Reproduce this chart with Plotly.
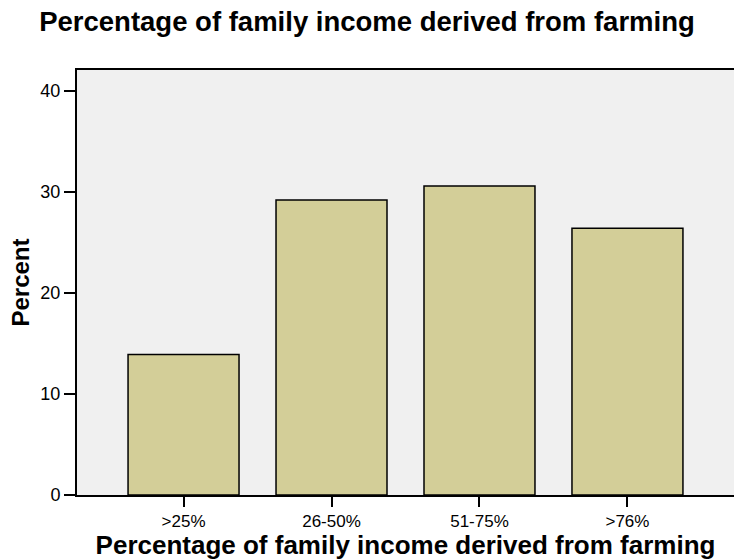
import plotly.graph_objects as go

categories = [">25%", "26-50%", "51-75%", ">76%"]
percent = [13.9, 29.2, 30.6, 26.4]
y_ticks = [0, 10, 20, 30, 40]

fig = go.Figure(go.Bar(
    x=categories, y=percent,
    marker=dict(color="#D3CE98", line=dict(color="#000000", width=1.5)),
    width=0.75,
))

font = "Liberation Sans, Arial, sans-serif"
fig.update_layout(
    width=734, height=560,
    margin=dict(l=77, r=0, t=70, b=65, autoexpand=False),
    paper_bgcolor="white", plot_bgcolor="#F0F0F0",
    font=dict(family=font, color="black", size=16),
    title=dict(text="<b>Percentage of family income derived from farming</b>",
               x=0.5, xanchor="center", xref="container", yref="container",
               y=1 - 21 / 560, yanchor="middle",
               font=dict(size=27.5, family=font), automargin=False),
    showlegend=False,
)
fig.update_xaxes(
    range=[-0.72, 3.72], showline=True, linecolor="black", linewidth=2, mirror=True,
    ticks="outside", ticklen=10, tickwidth=2, tickcolor="black",
    showgrid=False, tickfont=dict(size=17), automargin=False,
    title=dict(text="<b>Percentage of family income derived from farming</b>",
               font=dict(size=26), standoff=0),
)
fig.update_yaxes(
    range=[0, 42.08], tickvals=y_ticks, showline=True, linecolor="black", linewidth=2,
    ticks="outside", ticklen=11, tickwidth=2, tickcolor="black",
    showgrid=False, zeroline=False, tickfont=dict(size=18), automargin=False,
    title=dict(text="<b>Percent</b>", font=dict(size=24), standoff=4),
)

fig.write_html("out.html", config={"displayModeBar": False},
               post_script="document.body.style.margin='0';")
